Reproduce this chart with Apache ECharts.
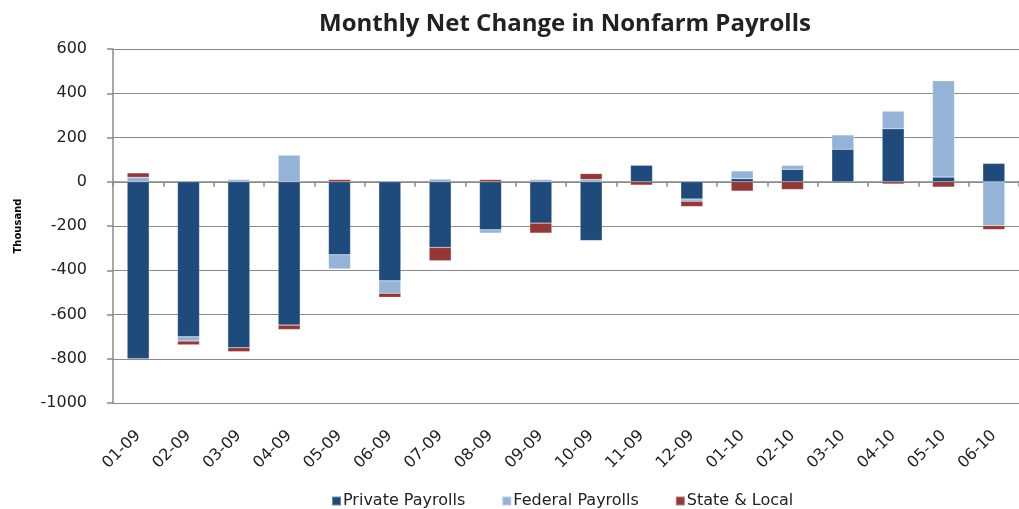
<!DOCTYPE html>
<html>
<head>
<meta charset="utf-8">
<script src="https://cdn.jsdelivr.net/npm/echarts@6/dist/echarts.min.js"></script>
<style>
html,body{margin:0;padding:0;background:#fff;}
#main{width:1019px;height:509px;}
</style>
</head>
<body>
<div id="main"></div>
<script>
var categories = ["01-09","02-09","03-09","04-09","05-09","06-09","07-09","08-09","09-09","10-09","11-09","12-09","01-10","02-10","03-10","04-10","05-10","06-10"];
var privatePayrolls = [-800, -700, -750, -648, -330, -448, -297, -217, -187, -266, 75, -78, 14, 56, 147, 239, 21, 83];
var federalPayrolls = [20, -20, 10, 120, -64, -56, 12, -15, 10, 10, 0, -10, 35, 18, 65, 80, 436, -198];
var stateLocal = [20, -17, -18, -20, 10, -18, -60, 10, -45, 27, -15, -24, -42, -35, 0, -10, -24, -18];
var yTicks = {min: -1000, max: 600, interval: 200};

var chart = echarts.init(document.getElementById('main'));
var gridColor = '#8a8a8a';
var textColor = '#222';
function bar(name, data, color) {
  return {
    name: name, type: 'bar', stack: 'total', data: data,
    xAxisIndex: 0, barWidth: 22,
    itemStyle: {color: color, borderColor: 'rgba(255,255,255,0.35)', borderWidth: 0.5},
    emphasis: {disabled: true}
  };
}
chart.setOption({
  animation: false,
  title: {
    text: 'Monthly Net Change in Nonfarm Payrolls',
    left: 560, top: 7, textAlign: 'center',
    textStyle: {fontFamily: 'Open Sans', fontSize: 24, fontWeight: 'bold', color: textColor}
  },
  legend: {
    bottom: -5, left: 326, itemGap: 36, itemWidth: 9, itemHeight: 9,
    icon: 'rect',
    textStyle: {fontFamily: 'DejaVu Sans', fontSize: 16, color: textColor, padding: [0,0,0,-3]},
    data: ['Private Payrolls','Federal Payrolls','State & Local']
  },
  grid: {left: 113, top: 49, width: 914, height: 354},
  xAxis: [{
    type: 'category', data: categories,
    axisLine: {onZero: true, lineStyle: {color: gridColor, width: 1.5}},
    axisTick: {show: true, inside: false, length: 5, lineStyle: {color: gridColor, width: 1.5}},
    axisLabel: {show: false},
    splitLine: {show: false}
  }, {
    type: 'category', data: categories, position: 'bottom',
    axisLine: {show: false}, axisTick: {show: false},
    axisLabel: {rotate: 45, margin: 30, fontFamily: 'DejaVu Sans', fontSize: 16, color: textColor}
  }],
  yAxis: {
    type: 'value', min: yTicks.min, max: yTicks.max, interval: yTicks.interval,
    name: 'Thousand', nameLocation: 'middle', nameGap: 90, nameRotate: 90,
    nameTextStyle: {fontFamily: 'DejaVu Sans', fontSize: 10, fontWeight: 'bold', color: '#000'},
    axisLine: {show: true, lineStyle: {color: gridColor, width: 1.5}},
    axisTick: {show: true, length: 6, lineStyle: {color: gridColor, width: 1.5}},
    axisLabel: {margin: 26, fontFamily: 'DejaVu Sans', fontSize: 16, color: textColor,
      formatter: function (v) { return String(v); }},
    splitLine: {show: true, lineStyle: {color: gridColor, width: 1.2}}
  },
  series: [
    bar('Private Payrolls', privatePayrolls, '#1f4a7c'),
    bar('Federal Payrolls', federalPayrolls, '#95b3d7'),
    bar('State & Local', stateLocal, '#953735')
  ]
});
</script>
</body>
</html>
